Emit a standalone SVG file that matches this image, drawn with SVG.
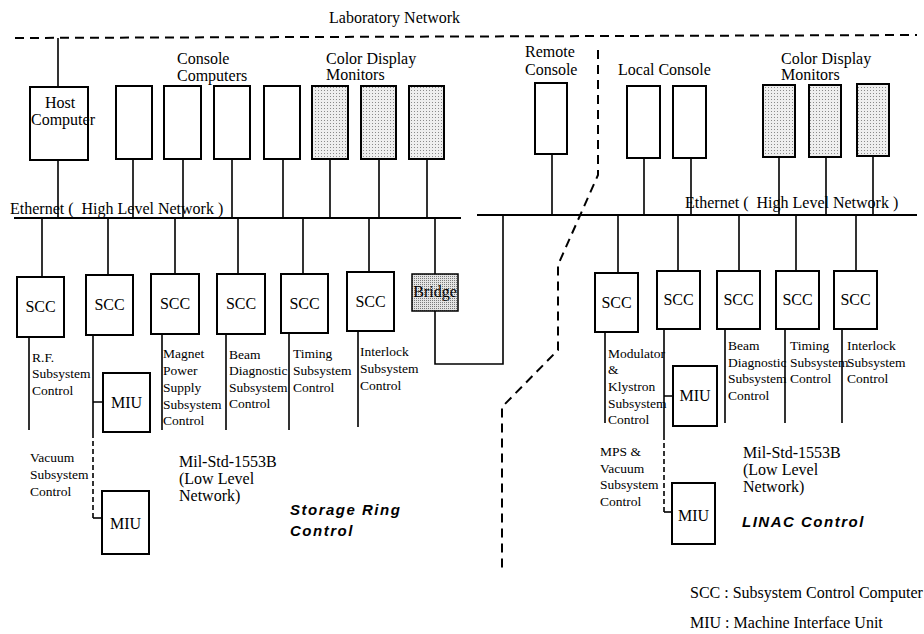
<svg xmlns="http://www.w3.org/2000/svg" width="924" height="634" viewBox="0 0 924 634">
<style>
text{font-family:"Liberation Serif","Times New Roman",serif;fill:#000}
.t16{font-size:16px}
.t13{font-size:13.5px}
.big{font-family:"Liberation Sans",Arial,sans-serif;font-size:15px;font-weight:bold;font-style:italic;letter-spacing:1.5px}
.box{fill:#fff;stroke:#000;stroke-width:2}
.shade{fill:url(#dots);stroke:#000;stroke-width:2}
.bshade{fill:url(#dots2);stroke:#000;stroke-width:1.5}
.ln{fill:none;stroke:#000;stroke-width:1.6}
.bus{fill:none;stroke:#000;stroke-width:2.2}
.dash{fill:none;stroke:#000;stroke-width:2;stroke-dasharray:9 6}
.sdash{fill:none;stroke:#000;stroke-width:1.6;stroke-dasharray:5 3}
</style>
<defs>
<pattern id="dots" width="3" height="3" patternUnits="userSpaceOnUse"><rect width="3" height="3" fill="#eeeeee"/><rect width="1" height="1" fill="#8a8a8a"/></pattern>
<pattern id="dots2" width="2" height="2" patternUnits="userSpaceOnUse"><rect width="2" height="2" fill="#e4e4e4"/><rect width="1" height="1" fill="#7a7a7a"/></pattern>
</defs>
<rect width="924" height="634" fill="#fff"/>

<g id="connectors">
<path class="dash" d="M15 38 L917 35"/>
<path class="dash" d="M598 50 L598 175 L558 265 L558 350 L502 407 L502 568"/>
<path class="bus" d="M14 218 H461"/>
<path class="bus" d="M477 215 H917"/>
<path class="ln" d="M58 38 V87 M58 160 V218 M133 159 V218 M183 159 V218 M232 159 V218 M283 159 V218 M330 159 V218 M379 159 V218 M427 159 V218"/>
<path class="ln" d="M42 218 V277 M108 218 V275 M175 218 V274 M238 218 V274 M303 218 V274 M369 218 V272 M435 218 V274"/>
<path class="ln" d="M29 337 V430 M93 335 V433 M93 402 H103 M162 334 V430 M226 334 V430 M289 333 V430 M358 331 V427"/>
<path class="sdash" d="M93 433 V518"/>
<path class="ln" d="M93 518 H102"/>
<path class="ln" d="M435 311 V364 H503 V215"/>
<path class="ln" d="M552 154 V215 M644 158 V215 M691 158 V215 M779 157 V215 M826 157 V215 M873 156 V215"/>
<path class="ln" d="M618 215 V273 M678 215 V271 M739 215 V271 M796 215 V271 M856 215 V271"/>
<path class="ln" d="M605 332 V423 M664 329 V435 M664 396 H673 M725 329 V423 M785 329 V423 M842 329 V423"/>
<path class="sdash" d="M664 435 V512"/>
<path class="ln" d="M664 512 H672"/>
</g>

<text class="t16" x="329" y="23">Laboratory Network</text>
<text class="t16" x="10" y="214" xml:space="preserve">Ethernet (  High Level Network )</text>
<text class="t16" x="685" y="208" xml:space="preserve">Ethernet (  High Level Network )</text>

<g id="host"><rect class="box" x="30" y="87" width="58" height="73"/><text class="t16" x="45" y="108">Host</text><text class="t16" x="31" y="125">Computer</text></g>
<g id="console-label"><text class="t16" x="177" y="64">Console</text><text class="t16" x="177" y="81">Computers</text></g>
<g id="cc1"><rect class="box" x="116" y="86" width="36" height="73"/></g>
<g id="cc2"><rect class="box" x="164" y="86" width="37" height="73"/></g>
<g id="cc3"><rect class="box" x="214" y="86" width="36" height="73"/></g>
<g id="cc4"><rect class="box" x="264" y="86" width="36" height="73"/></g>
<g id="cdm-label-left"><text class="t16" x="326" y="64">Color Display</text><text class="t16" x="326" y="80">Monitors</text></g>
<g id="cdm1"><rect class="shade" x="312" y="86" width="36" height="73"/></g>
<g id="cdm2"><rect class="shade" x="361" y="86" width="35" height="73"/></g>
<g id="cdm3"><rect class="shade" x="409" y="86" width="35" height="73"/></g>

<g id="remote"><text class="t16" x="525" y="57">Remote</text><text class="t16" x="525" y="75">Console</text><rect class="box" x="535" y="83" width="32" height="71"/></g>
<g id="local-label"><text class="t16" x="618" y="75">Local Console</text></g>
<g id="lc1"><rect class="box" x="627" y="86" width="33" height="72"/></g>
<g id="lc2"><rect class="box" x="673" y="86" width="33" height="72"/></g>
<g id="cdm-label-right"><text class="t16" x="781" y="64">Color Display</text><text class="t16" x="781" y="80">Monitors</text></g>
<g id="cdm4"><rect class="shade" x="763" y="85" width="32" height="72"/></g>
<g id="cdm5"><rect class="shade" x="809" y="85" width="32" height="72"/></g>
<g id="cdm6"><rect class="shade" x="857" y="84" width="32" height="72"/></g>

<g id="scc-rf"><rect class="box" x="17" y="277" width="47" height="60"/><text class="t16" x="40.5" y="312" text-anchor="middle">SCC</text>
<text class="t13" x="32" y="362">R.F.</text><text class="t13" x="32" y="378">Subsystem</text><text class="t13" x="32" y="395">Control</text></g>
<g id="scc-vac"><rect class="box" x="86" y="275" width="47" height="60"/><text class="t16" x="109.5" y="310" text-anchor="middle">SCC</text></g>
<g id="miu-l1"><rect class="box" x="103" y="373" width="47" height="59"/><text class="t16" x="126.5" y="408" text-anchor="middle">MIU</text></g>
<g id="miu-l2"><rect class="box" x="102" y="491" width="47" height="63"/><text class="t16" x="125.5" y="529" text-anchor="middle">MIU</text></g>
<g id="vac-label"><text class="t13" x="30" y="462">Vacuum</text><text class="t13" x="30" y="479">Subsystem</text><text class="t13" x="30" y="496">Control</text></g>
<g id="scc-mag"><rect class="box" x="151" y="274" width="48" height="60"/><text class="t16" x="175" y="309" text-anchor="middle">SCC</text>
<text class="t13" x="163" y="358">Magnet</text><text class="t13" x="163" y="375">Power</text><text class="t13" x="163" y="392">Supply</text><text class="t13" x="163" y="409">Subsystem</text><text class="t13" x="163" y="425">Control</text></g>
<g id="scc-beam"><rect class="box" x="217" y="274" width="48" height="60"/><text class="t16" x="241" y="309" text-anchor="middle">SCC</text>
<text class="t13" x="229" y="359">Beam</text><text class="t13" x="229" y="375">Diagnostic</text><text class="t13" x="229" y="392">Subsystem</text><text class="t13" x="229" y="408">Control</text></g>
<g id="scc-timing"><rect class="box" x="281" y="274" width="47" height="59"/><text class="t16" x="304.5" y="309" text-anchor="middle">SCC</text>
<text class="t13" x="293" y="358">Timing</text><text class="t13" x="293" y="375">Subsystem</text><text class="t13" x="293" y="392">Control</text></g>
<g id="scc-interlock"><rect class="box" x="347" y="272" width="47" height="59"/><text class="t16" x="370.5" y="307" text-anchor="middle">SCC</text>
<text class="t13" x="360" y="356">Interlock</text><text class="t13" x="360" y="373">Subsystem</text><text class="t13" x="360" y="390">Control</text></g>
<g id="bridge"><rect class="bshade" x="412" y="274" width="46" height="37"/><text class="t16" x="435" y="297" text-anchor="middle">Bridge</text></g>
<g id="sr-label"><text class="t16" x="179" y="467">Mil-Std-1553B</text><text class="t16" x="179" y="484">(Low Level</text><text class="t16" x="179" y="501">Network)</text>
<text class="big" x="290" y="515">Storage Ring</text><text class="big" x="290" y="536">Control</text></g>

<g id="scc-mod"><rect class="box" x="595" y="273" width="43" height="59"/><text class="t16" x="616.5" y="308" text-anchor="middle">SCC</text>
<text class="t13" x="608" y="358">Modulator</text><text class="t13" x="608" y="374">&amp;</text><text class="t13" x="608" y="391">Klystron</text><text class="t13" x="608" y="408">Subsystem</text><text class="t13" x="608" y="424">Control</text></g>
<g id="scc-mps"><rect class="box" x="657" y="271" width="43" height="58"/><text class="t16" x="678.5" y="305" text-anchor="middle">SCC</text></g>
<g id="miu-r1"><rect class="box" x="673" y="366" width="44" height="60"/><text class="t16" x="695" y="401" text-anchor="middle">MIU</text></g>
<g id="miu-r2"><rect class="box" x="672" y="483" width="43" height="61"/><text class="t16" x="693.5" y="521" text-anchor="middle">MIU</text></g>
<g id="mps-label"><text class="t13" x="600" y="456">MPS &amp;</text><text class="t13" x="600" y="473">Vacuum</text><text class="t13" x="600" y="489">Subsystem</text><text class="t13" x="600" y="506">Control</text></g>
<g id="scc-rbeam"><rect class="box" x="717" y="271" width="43" height="58"/><text class="t16" x="738.5" y="305" text-anchor="middle">SCC</text>
<text class="t13" x="728" y="350">Beam</text><text class="t13" x="728" y="367">Diagnostic</text><text class="t13" x="728" y="383">Subsystem</text><text class="t13" x="728" y="400">Control</text></g>
<g id="scc-rtiming"><rect class="box" x="776" y="271" width="43" height="58"/><text class="t16" x="797.5" y="305" text-anchor="middle">SCC</text>
<text class="t13" x="790" y="350">Timing</text><text class="t13" x="790" y="367">Subsystem</text><text class="t13" x="790" y="383">Control</text></g>
<g id="scc-rinterlock"><rect class="box" x="834" y="271" width="43" height="58"/><text class="t16" x="855.5" y="305" text-anchor="middle">SCC</text>
<text class="t13" x="847" y="350">Interlock</text><text class="t13" x="847" y="367">Subsystem</text><text class="t13" x="847" y="383">Control</text></g>
<g id="linac-label"><text class="t16" x="743" y="458">Mil-Std-1553B</text><text class="t16" x="743" y="475">(Low Level</text><text class="t16" x="743" y="492">Network)</text>
<text class="big" x="742" y="527">LINAC Control</text></g>

<g id="legend"><text class="t16" x="690" y="598">SCC : Subsystem Control Computer</text><text class="t16" x="690" y="628">MIU : Machine Interface Unit</text></g>
</svg>
